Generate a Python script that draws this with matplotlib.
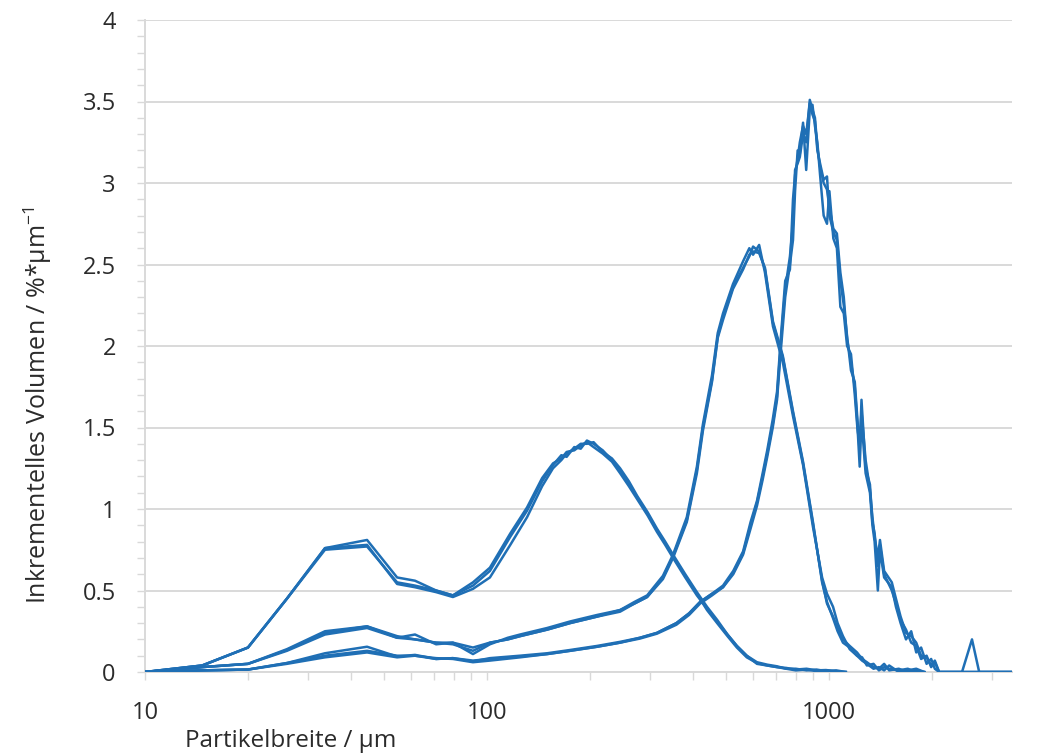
import matplotlib.pyplot as plt
from matplotlib.ticker import FixedLocator, FixedFormatter, NullFormatter, MultipleLocator

plt.rcParams['font.family'] = ['Open Sans', 'DejaVu Sans']

# sample A: bimodal (fine fraction + peak near 200 um)
xa = [10, 14.7, 20, 26, 33.6, 44.6, 54.6, 61.6, 71, 79.5,
      91, 102, 117, 131, 145, 156, 165, 171, 180, 188,
      196, 205, 218, 232, 245, 260, 275, 295, 314, 332,
      350, 380, 411, 440, 471, 505, 538, 575, 616, 660,
      705, 750, 800, 860, 920, 980, 1050, 1120]
ya1 = [0, 0.04, 0.15, 0.45, 0.76, 0.81, 0.58, 0.56, 0.50, 0.47,
       0.53, 0.62, 0.83, 0.99, 1.17, 1.27, 1.33, 1.32, 1.38, 1.37,
       1.42, 1.40, 1.36, 1.30, 1.24, 1.16, 1.07, 0.97, 0.87, 0.79,
       0.71, 0.59, 0.48, 0.38, 0.30, 0.22, 0.15, 0.09, 0.055, 0.04,
       0.03, 0.025, 0.015, 0.02, 0.01, 0.012, 0.005, 0]
ya2 = [0, 0.04, 0.15, 0.45, 0.75, 0.77, 0.55, 0.53, 0.50, 0.47,
       0.55, 0.64, 0.85, 1.01, 1.19, 1.28, 1.31, 1.35, 1.36, 1.39,
       1.41, 1.38, 1.34, 1.29, 1.22, 1.14, 1.06, 0.96, 0.86, 0.78,
       0.70, 0.58, 0.47, 0.39, 0.31, 0.23, 0.16, 0.10, 0.06, 0.045,
       0.035, 0.02, 0.02, 0.01, 0.015, 0.005, 0.01, 0]
ya3 = [0, 0.04, 0.15, 0.45, 0.76, 0.78, 0.54, 0.52, 0.49, 0.46,
       0.51, 0.58, 0.78, 0.95, 1.14, 1.25, 1.30, 1.34, 1.37, 1.40,
       1.40, 1.41, 1.35, 1.31, 1.25, 1.17, 1.08, 0.98, 0.88, 0.80,
       0.72, 0.60, 0.49, 0.40, 0.32, 0.23, 0.16, 0.10, 0.05, 0.04,
       0.03, 0.02, 0.01, 0.015, 0.005, 0.01, 0, 0]

# sample B: peak near 600 um
xb = [10, 14.7, 20, 26, 33.6, 44.6, 54.6, 61.6, 71, 79.5,
      91, 102, 115, 125, 150, 175, 210, 245, 270, 294,
      327, 350, 384, 411, 428, 455, 473, 490, 524, 561,
      585, 600, 625, 650, 686, 733, 785, 840, 898, 955,
      987, 1028, 1060, 1099, 1150, 1208, 1250, 1291, 1350, 1400,
      1450, 1500, 1600, 1700, 1800, 1900]
yb1 = [0, 0.03, 0.05, 0.14, 0.25, 0.28, 0.22, 0.20, 0.18, 0.18,
       0.15, 0.18, 0.20, 0.22, 0.26, 0.30, 0.34, 0.38, 0.42, 0.46,
       0.58, 0.71, 0.93, 1.24, 1.50, 1.79, 2.06, 2.18, 2.36, 2.48,
       2.55, 2.61, 2.58, 2.47, 2.14, 1.93, 1.59, 1.28, 0.91, 0.56,
       0.42, 0.34, 0.27, 0.20, 0.16, 0.12, 0.08, 0.06, 0.03, 0.02,
       0.05, 0.01, 0.02, 0, 0.01, 0]
yb2 = [0, 0.03, 0.05, 0.13, 0.23, 0.27, 0.21, 0.23, 0.17, 0.18,
       0.11, 0.17, 0.21, 0.23, 0.27, 0.31, 0.35, 0.38, 0.43, 0.47,
       0.59, 0.72, 0.95, 1.26, 1.52, 1.82, 2.08, 2.20, 2.38, 2.52,
       2.60, 2.56, 2.62, 2.45, 2.12, 1.90, 1.57, 1.27, 0.89, 0.58,
       0.48, 0.40, 0.30, 0.22, 0.14, 0.10, 0.09, 0.04, 0.05, 0.01,
       0.03, 0.02, 0.01, 0.02, 0, 0]
yb3 = [0, 0.03, 0.05, 0.135, 0.24, 0.28, 0.21, 0.20, 0.18, 0.17,
       0.13, 0.18, 0.20, 0.22, 0.26, 0.30, 0.34, 0.37, 0.42, 0.46,
       0.57, 0.70, 0.92, 1.22, 1.48, 1.78, 2.05, 2.16, 2.35, 2.47,
       2.56, 2.58, 2.57, 2.48, 2.15, 1.94, 1.60, 1.29, 0.92, 0.55,
       0.43, 0.33, 0.25, 0.18, 0.15, 0.10, 0.07, 0.05, 0.02, 0.03,
       0.01, 0.04, 0, 0.01, 0.02, 0]

# sample C: peak near 880 um
xc = [10, 14.7, 20, 26, 33.6, 44.6, 54.6, 61.6, 71, 79.5,
      91, 102, 125, 150, 175, 210, 245, 280, 314, 358,
      390, 420, 455, 490, 525, 561, 590, 616, 640, 660,
      685, 705, 725, 745, 769, 785, 796, 810, 822, 840,
      858, 879, 895, 910, 925, 942, 965, 987, 1003, 1030,
      1055, 1080, 1105, 1130, 1160, 1190, 1216, 1230, 1245, 1280,
      1318, 1340, 1360, 1390, 1410, 1450, 1527, 1570, 1620, 1680,
      1740, 1800, 1860, 1930, 1990, 2040, 2100, 2450, 2620, 2750,
      3500]
yc1 = [0, 0.01, 0.015, 0.055, 0.115, 0.155, 0.095, 0.105, 0.08, 0.085,
       0.065, 0.085, 0.10, 0.115, 0.135, 0.16, 0.185, 0.21, 0.24, 0.30,
       0.36, 0.43, 0.48, 0.52, 0.61, 0.73, 0.90, 1.04, 1.20, 1.34,
       1.52, 1.69, 2.05, 2.35, 2.55, 2.75, 3.08, 3.12, 3.16, 3.30,
       3.25, 3.51, 3.45, 3.40, 3.22, 3.10, 3.00, 2.96, 2.85, 2.72,
       2.69, 2.45, 2.30, 2.04, 1.90, 1.75, 1.47, 1.40, 1.60, 1.30,
       1.12, 0.95, 0.83, 0.70, 0.81, 0.62, 0.55, 0.45, 0.34, 0.24,
       0.22, 0.18, 0.10, 0.09, 0.04, 0.07, 0, 0, 0.20, 0,
       0]
yc2 = [0, 0.01, 0.015, 0.05, 0.09, 0.12, 0.09, 0.10, 0.085, 0.08,
       0.06, 0.07, 0.09, 0.11, 0.13, 0.155, 0.18, 0.205, 0.235, 0.29,
       0.35, 0.42, 0.47, 0.52, 0.60, 0.72, 0.88, 1.02, 1.18, 1.32,
       1.50, 1.67, 2.00, 2.30, 2.50, 2.65, 2.95, 3.20, 3.18, 3.37,
       3.08, 3.45, 3.48, 3.35, 3.25, 3.05, 2.80, 2.75, 2.95, 2.66,
       2.60, 2.24, 2.20, 2.00, 1.95, 1.70, 1.45, 1.26, 1.55, 1.22,
       1.10, 0.90, 0.80, 0.50, 0.75, 0.58, 0.52, 0.40, 0.30, 0.20,
       0.25, 0.12, 0.15, 0.05, 0.08, 0.02, 0, 0, 0, 0,
       0]
yc3 = [0, 0.01, 0.015, 0.055, 0.10, 0.13, 0.10, 0.10, 0.08, 0.085,
       0.07, 0.08, 0.095, 0.11, 0.13, 0.155, 0.18, 0.21, 0.24, 0.30,
       0.36, 0.43, 0.48, 0.53, 0.62, 0.74, 0.92, 1.05, 1.22, 1.36,
       1.55, 1.72, 2.08, 2.40, 2.47, 2.90, 3.05, 3.15, 3.25, 3.35,
       3.30, 3.49, 3.42, 3.38, 3.20, 3.12, 3.02, 3.04, 2.80, 2.70,
       2.65, 2.40, 2.25, 2.06, 1.85, 1.78, 1.50, 1.35, 1.67, 1.25,
       1.15, 0.92, 0.85, 0.65, 0.78, 0.60, 0.50, 0.42, 0.32, 0.26,
       0.18, 0.16, 0.08, 0.10, 0.03, 0.06, 0, 0, 0, 0,
       0]

line_color = '#1f6fb5'
grid_color = '#d9d9d9'
text_color = '#2b2b2b'

fig = plt.figure(figsize=(10.38, 7.56), dpi=100)
ax = fig.add_axes([145 / 1038, 84 / 756, (1012 - 145) / 1038, (672 - 20) / 756])

for x, ys in [(xa, [ya1, ya2, ya3]), (xb, [yb1, yb2, yb3]), (xc, [yc1, yc2, yc3])]:
    for y in ys:
        ax.plot(x, y, color=line_color, lw=1.8, solid_joinstyle='round', zorder=3)

ax.set_xscale('log')
ax.set_xlim(10, 3430)
ax.set_ylim(0, 4)

ax.xaxis.set_major_locator(FixedLocator([10, 100, 1000]))
ax.xaxis.set_major_formatter(FixedFormatter(['10', '100', '1000']))
minor_x = [20, 30, 40, 50, 60, 70, 80, 90, 200, 300, 400, 500, 600, 700, 800, 900, 2000, 3000]
ax.xaxis.set_minor_locator(FixedLocator(minor_x))
ax.xaxis.set_minor_formatter(NullFormatter())

ax.set_yticks([0, 0.5, 1, 1.5, 2, 2.5, 3, 3.5, 4])
ax.set_yticklabels(['0', '0.5', '1', '1.5', '2', '2.5', '3', '3.5', '4'])
ax.yaxis.set_minor_locator(MultipleLocator(0.1))

ax.grid(axis='y', which='major', color=grid_color, lw=1.4, zorder=0)
for s in ['top', 'right']:
    ax.spines[s].set_visible(False)
for s in ['left', 'bottom']:
    ax.spines[s].set_color(grid_color)
    ax.spines[s].set_linewidth(1.4)

ax.tick_params(axis='x', which='both', direction='out', length=6, width=1, color=grid_color,
               labelsize=17, labelcolor=text_color, pad=15)
ax.tick_params(axis='y', which='both', direction='out', length=6, width=1, color=grid_color,
               labelsize=17, labelcolor=text_color, pad=15)

fig.text(38 / 1038, 1 - 405 / 756, r'Inkrementelles Volumen / %*µm$^{\mathregular{-1}}$',
         rotation=90, ha='center', va='center', fontsize=18, color=text_color)
fig.text(291 / 1038, 1 - 741 / 756, 'Partikelbreite / µm',
         ha='center', va='center', fontsize=17.5, color=text_color)

fig.savefig('out.png', dpi=100)
